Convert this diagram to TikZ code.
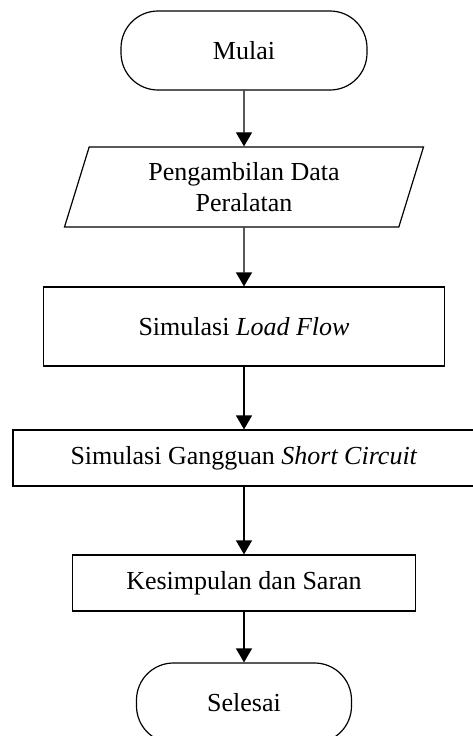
\documentclass[tikz,border=0pt]{standalone}
\usepackage{fontspec}
\setmainfont{Liberation Serif}
\usetikzlibrary{arrows.meta,shapes.geometric}
\begin{document}
\begin{tikzpicture}[x=1pt,y=-1pt,
  every node/.style={font=\fontsize{26}{31}\selectfont, line width=1.2pt, draw, inner sep=0pt, align=center},
  term/.style={rounded corners=37pt},
  proc/.style={rectangle},
  io/.style={trapezium, trapezium left angle=63.4, trapezium right angle=116.6, trapezium stretches body},
  flow/.style={line width=1.2pt, -{Triangle[width=16pt,length=14pt]}}
]
\useasboundingbox (0,0) rectangle (473,736);
\clip (0,0) rectangle (473,736);
\node[term, minimum width=246pt, minimum height=79pt] (mulai) at (244,50.5) {Mulai};
\node[io, minimum width=359pt, minimum height=80pt] (data) at (244,187) {Pengambilan Data\\Peralatan};
\node[proc, minimum width=401pt, minimum height=79pt] (load) at (244,326.5) {Simulasi \textit{Load Flow}};
\node[proc, minimum width=462pt, minimum height=56pt] (sc) at (244,458) {Simulasi Gangguan \textit{Short Circuit}};
\node[proc, minimum width=343pt, minimum height=56pt] (kes) at (244,583) {Kesimpulan dan Saran};
\node[term, minimum width=215pt, minimum height=80pt] (selesai) at (244,703) {Selesai};
\draw[flow] (mulai.south) -- (data.north);
\draw[flow] (data.south) -- (load.north);
\draw[flow] (load.south) -- (sc.north);
\draw[flow] (sc.south) -- (kes.north);
\draw[flow] (kes.south) -- (selesai.north);
\end{tikzpicture}
\end{document}
